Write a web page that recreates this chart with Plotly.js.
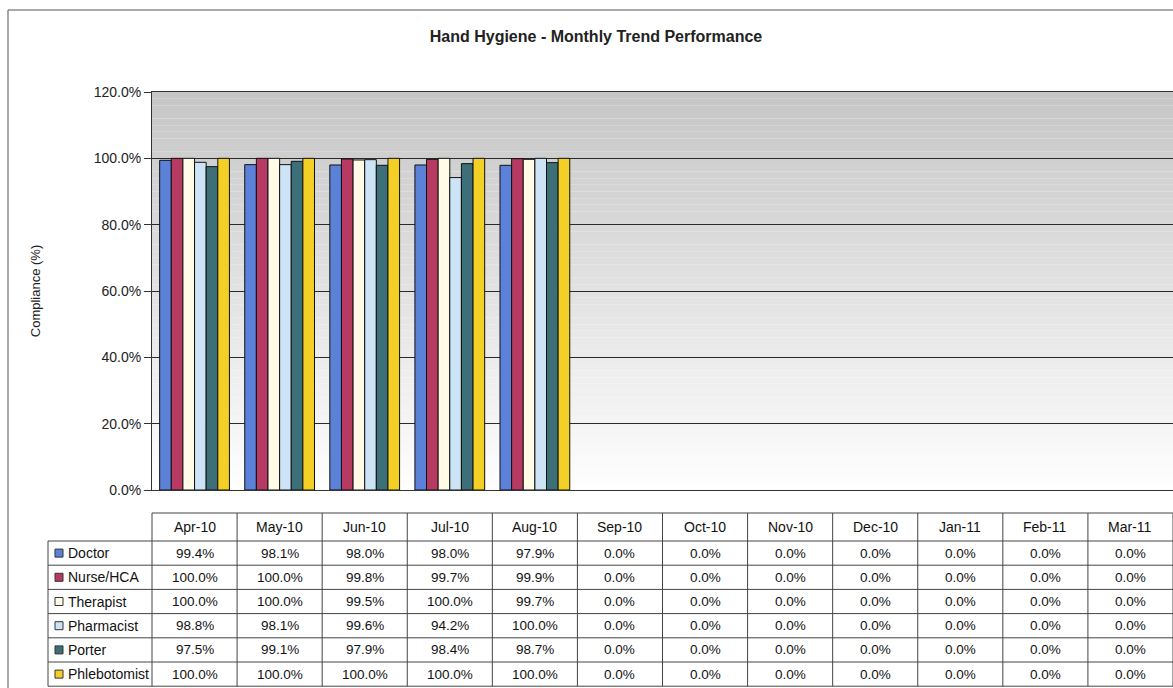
<!DOCTYPE html>
<html>
<head>
<meta charset="utf-8">
<script src="https://cdn.plot.ly/plotly-3.0.1.min.js"></script>
<style>
html,body{margin:0;padding:0;background:#fff;overflow:hidden;}
#chart{width:1173px;height:688px;}
</style>
</head>
<body>
<div id="chart"></div>
<script>
// ---- data ----
const categories = ['Apr-10','May-10','Jun-10','Jul-10','Aug-10','Sep-10','Oct-10','Nov-10','Dec-10','Jan-11','Feb-11','Mar-11'];
const seriesNames = ['Doctor','Nurse/HCA','Therapist','Pharmacist','Porter','Phlebotomist'];
const doctor       = [99.4, 98.1, 98.0, 98.0, 97.9, 0, 0, 0, 0, 0, 0, 0];
const nurseHCA     = [100.0, 100.0, 99.8, 99.7, 99.9, 0, 0, 0, 0, 0, 0, 0];
const therapist    = [100.0, 100.0, 99.5, 100.0, 99.7, 0, 0, 0, 0, 0, 0, 0];
const pharmacist   = [98.8, 98.1, 99.6, 94.2, 100.0, 0, 0, 0, 0, 0, 0, 0];
const porter       = [97.5, 99.1, 97.9, 98.4, 98.7, 0, 0, 0, 0, 0, 0, 0];
const phlebotomist = [100.0, 100.0, 100.0, 100.0, 100.0, 0, 0, 0, 0, 0, 0, 0];
const seriesValues = [doctor, nurseHCA, therapist, pharmacist, porter, phlebotomist];
const yTicks = [0, 20, 40, 60, 80, 100, 120];
const yTickText = yTicks.map(v => v.toFixed(1) + '%');

// ---- styling ----
const colors = ['#5b82d8', '#b63a62', '#fffbe6', '#cde4f6', '#3c6f78', '#f4cf26'];
const FONT = 'Liberation Sans, Arial, sans-serif';
const W = 1173, H = 688;
const L = 152, R = 0, T = 92, B = 198;
const plotW = W - L - R, plotH = H - T - B;
const px2x = p => (p - L) / plotW;
const py2y = p => (H - B - p) / plotH;
const nCat = categories.length;

const traces = seriesNames.map((name, i) => ({
  type: 'bar',
  name: name,
  x: categories,
  y: seriesValues[i],
  marker: {color: colors[i], line: {color: '#111', width: seriesValues[i].map(v => v > 0 ? 1 : 0)}},
  showlegend: false,
  hovertemplate: name + ' %{x}: %{y:.1f}%<extra></extra>'
}));

const shapes = [];
// gradient background of plot area
const bands = 60;
for (let b = 0; b < bands; b++) {
  const y0 = 120 * b / bands, y1 = 120 * (b + 1) / bands;
  const t = (y0 + y1) / 2 / 120;
  const v = Math.round(254 - (254 - 198) * t);
  shapes.push({type: 'rect', xref: 'paper', yref: 'y', x0: 0, x1: 1, y0: y0, y1: y1,
    fillcolor: `rgb(${v},${v},${Math.min(255, v + 1)})`, line: {width: 0}, layer: 'below'});
}
// outer chart frame
shapes.push({type: 'line', xref: 'paper', yref: 'paper', x0: px2x(8), x1: px2x(1180), y0: py2y(10), y1: py2y(10), line: {color: '#555', width: 1}});
shapes.push({type: 'line', xref: 'paper', yref: 'paper', x0: px2x(8), x1: px2x(8), y0: py2y(10), y1: py2y(690), line: {color: '#555', width: 1}});

// data table
const lineC = '#444';
const headTop = 513, headBot = 541, rowH = 24.2;
const labelLeft = 48;
const tableBottom = headBot + rowH * seriesNames.length;
shapes.push({type: 'line', xref: 'paper', yref: 'paper', x0: 0, x1: 1, y0: py2y(headTop), y1: py2y(headTop), line: {color: lineC, width: 1}});
for (let r = 0; r <= seriesNames.length; r++) {
  const yy = py2y(headBot + rowH * r);
  shapes.push({type: 'line', xref: 'paper', yref: 'paper', x0: px2x(labelLeft), x1: 1, y0: yy, y1: yy, line: {color: lineC, width: 1}});
}
shapes.push({type: 'line', xref: 'paper', yref: 'paper', x0: px2x(labelLeft), x1: px2x(labelLeft), y0: py2y(headBot), y1: py2y(tableBottom), line: {color: lineC, width: 1}});
for (let c = 0; c <= nCat; c++) {
  const xx = c / nCat;
  shapes.push({type: 'line', xref: 'paper', yref: 'paper', x0: xx, x1: xx, y0: py2y(headTop), y1: py2y(tableBottom), line: {color: lineC, width: 1}});
}

const annotations = [];
categories.forEach((cat, c) => {
  annotations.push({xref: 'paper', yref: 'paper', x: (c + 0.5) / nCat, y: py2y(527), text: cat, showarrow: false,
    xanchor: 'center', yanchor: 'middle', font: {family: FONT, size: 14, color: '#111'}});
});
seriesNames.forEach((name, r) => {
  const cy = headBot + rowH * (r + 0.5);
  shapes.push({type: 'rect', xref: 'paper', yref: 'paper', x0: px2x(55), x1: px2x(63), y0: py2y(cy - 4), y1: py2y(cy + 4),
    fillcolor: colors[r], line: {color: '#333', width: 1}});
  annotations.push({xref: 'paper', yref: 'paper', x: px2x(66), y: py2y(cy), text: name, showarrow: false,
    xanchor: 'left', yanchor: 'middle', font: {family: FONT, size: 14, color: '#111'}});
  seriesValues[r].forEach((v, c) => {
    annotations.push({xref: 'paper', yref: 'paper', x: (c + 0.5) / nCat, y: py2y(cy), text: v.toFixed(1) + '%', showarrow: false,
      xanchor: 'center', yanchor: 'middle', font: {family: FONT, size: 13.5, color: '#111'}});
  });
});

const layout = {
  width: W, height: H,
  margin: {l: L, r: R, t: T, b: B, pad: 0},
  paper_bgcolor: '#ffffff',
  plot_bgcolor: 'rgba(0,0,0,0)',
  barmode: 'group',
  bargap: 0.18,
  bargroupgap: 0,
  font: {family: FONT, color: '#111'},
  title: {
    text: '<b>Hand Hygiene - Monthly Trend Performance</b>',
    font: {family: FONT, size: 16, color: '#222'},
    xref: 'container', yref: 'container',
    x: 596 / W, xanchor: 'center',
    y: 1 - 36 / H, yanchor: 'middle'
  },
  xaxis: {
    type: 'category',
    range: [-0.5, nCat - 0.5],
    showticklabels: false,
    ticks: '',
    showgrid: false,
    showline: true, mirror: true,
    linecolor: '#333', linewidth: 1,
    zeroline: false,
    fixedrange: true
  },
  yaxis: {
    range: [0, 120],
    tickmode: 'array',
    tickvals: yTicks,
    ticktext: yTickText,
    tickfont: {family: FONT, size: 14, color: '#222'},
    showgrid: true, gridcolor: '#2a2a2a', gridwidth: 1,
    showline: true, linecolor: '#333', linewidth: 1,
    ticks: 'outside', ticklen: 7, tickcolor: '#333',
    zeroline: false,
    fixedrange: true,
    title: {text: 'Compliance (%)', font: {family: FONT, size: 13, color: '#222'}, standoff: 50}
  },
  shapes: shapes,
  annotations: annotations
};

Plotly.newPlot('chart', traces, layout, {displayModeBar: false, staticPlot: true});
</script>
</body>
</html>
